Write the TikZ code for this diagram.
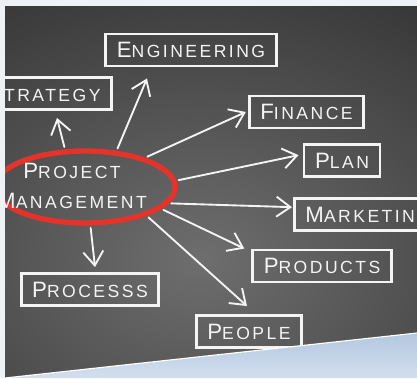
\documentclass[tikz,border=0pt]{standalone}
\usepackage{fontspec}
\usetikzlibrary{arrows.meta,shapes.geometric}
\newfontfamily\chalkfont[LetterSpace=14]{Liberation Sans}
\newcommand{\chalkcap}[1]{{\fontsize{19}{25}\selectfont #1}}
\definecolor{boarddark}{HTML}{101010}
\definecolor{boardmid}{HTML}{6E6E6E}
\definecolor{chalkwhite}{HTML}{F4F4F4}
\definecolor{chalkred}{HTML}{E5332A}
\definecolor{paper}{HTML}{EEF2F6}
\definecolor{skyblue}{HTML}{B3C7E1}
\definecolor{skylight}{HTML}{D3DFEE}
\tikzset{
  chalkbox/.style={rectangle,draw=chalkwhite,line width=2.5pt,minimum height=0.96cm,inner xsep=0.33cm,text=chalkwhite,font=\chalkfont\fontsize{15}{25}\selectfont},
  chalkarrow/.style={draw=chalkwhite,line width=1.6pt,line cap=round,-{Straight Barb[length=0.42cm,width=0.6cm]},shorten <=2pt}
}
\begin{document}
\begin{tikzpicture}[x=0.03cm,y=-0.03cm]
    \useasboundingbox (0,0) rectangle (417,378);
    % board
    \fill[paper] (0,0) rectangle (417,378);
    \shade[top color=skyblue,bottom color=skylight] (5,378) -- (417,333) -- (417,378) -- cycle;
    \begin{scope}
    \clip (5,6) -- (417,6) -- (417,333) -- (5,378) -- cycle;
    \fill[boarddark] (5,6) rectangle (417,378);
    \shade[inner color=boardmid,outer color=boarddark] (200,260) ellipse (700 and 520);

    % nodes
    \node (ring) at (85,187) [ellipse,draw=chalkred,line width=4.5pt,minimum width=5.4cm,minimum height=2.16cm] {};
    \node (pm) at (72,186) [align=center,text=chalkwhite,font=\chalkfont\fontsize{15}{25}\selectfont] {\chalkcap{P}ROJECT\\\chalkcap{M}ANAGEMENT};
    \node (eng) at (191,50) [chalkbox] {\chalkcap{E}NGINEERING};
    \node (strat) at (113,93.5) [chalkbox,anchor=east] {\chalkcap{S}TRATEGY};
    \node (fin) at (306.5,112) [chalkbox] {\chalkcap{F}INANCE};
    \node (plan) at (342,160.5) [chalkbox] {\chalkcap{P}LAN};
    \node (mkt) at (293,214.5) [chalkbox,anchor=west] {\chalkcap{M}ARKETING};
    \node (prod) at (322,266) [chalkbox] {\chalkcap{P}RODUCTS};
    \node (proc) at (90,289.5) [chalkbox] {\chalkcap{P}ROCESSS};
    \node (people) at (249,331.5) [chalkbox] {\chalkcap{P}EOPLE};

    % paths
    \draw[chalkarrow] (ring.118) -- ([xshift=-1.68cm,yshift=-0.21cm]strat.south east);
    \draw[chalkarrow] (ring.49) -- ([xshift=-1.32cm,yshift=-0.33cm]eng.south);
    \draw[chalkarrow] (ring.26) -- ([xshift=-0.06cm]fin.west);
    \draw[chalkarrow] (ring.4) -- ([xshift=-0.12cm,yshift=0.16cm]plan.west);
    \draw[chalkarrow] (ring.-11) -- ([xshift=-0.03cm,yshift=0.22cm]mkt.west);
    \draw[chalkarrow] (ring.-16) -- ([xshift=-0.21cm]prod.north west);
    \draw[chalkarrow] (ring.-25) -- ([xshift=-0.06cm,yshift=0.24cm]people.north);
    \draw[chalkarrow] (ring.-82) -- ([xshift=0.15cm,yshift=0.15cm]proc.north);
    \end{scope}
    \draw[white,line width=1pt] (5,378) -- (417,333);
\end{tikzpicture}
\end{document}
